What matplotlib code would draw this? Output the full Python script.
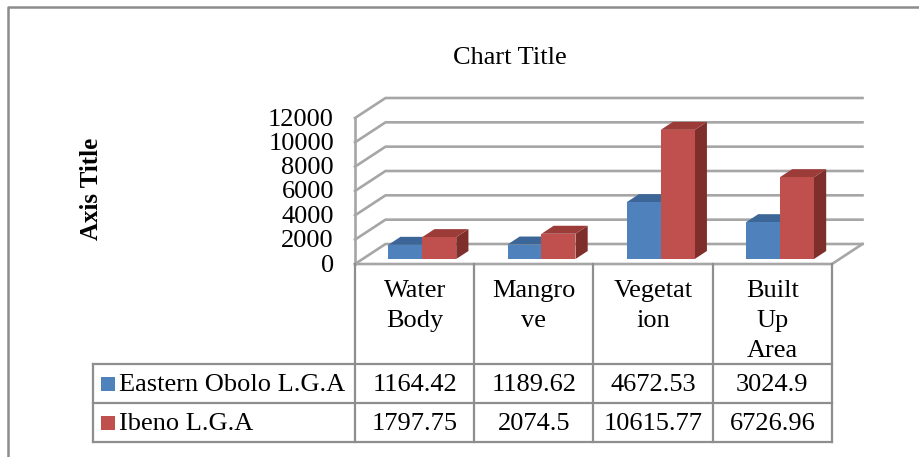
import matplotlib
matplotlib.use("Agg")
import matplotlib.pyplot as plt
from matplotlib.patches import Polygon, Rectangle
from matplotlib.lines import Line2D

# ---------------- data ----------------
categories = ["Water Body", "Mangrove", "Vegetation", "Built Up Area"]
category_labels = ["Water\nBody", "Mangro\nve", "Vegetat\nion", "Built\nUp\nArea"]
series_names = ["Eastern Obolo L.G.A", "Ibeno L.G.A"]
eastern_obolo = [1164.42, 1189.62, 4672.53, 3024.9]
ibeno = [1797.75, 2074.5, 10615.77, 6726.96]
y_ticks = [0, 2000, 4000, 6000, 8000, 10000, 12000]
chart_title = "Chart Title"
axis_title = "Axis Title"

series_values = [eastern_obolo, ibeno]
front_colors = ["#4F81BD", "#C0504D"]
top_colors = ["#3C6698", "#9B3C39"]
side_colors = ["#31557F", "#7E2F2C"]

plt.rcParams["font.family"] = ["Liberation Serif", "DejaVu Serif"]
FS = 19

W, H = 920, 457
fig = plt.figure(figsize=(W / 100, H / 100), dpi=100)
bg = fig.add_axes([0, 0, 1, 1])
bg.set_xlim(0, W)
bg.set_ylim(H, 0)
bg.axis("off")

# chart front plane
ax = fig.add_axes([355 / W, (H - 264) / H, (832 - 355) / W, (264 - 118) / H])
ax.set_xlim(0, len(categories))
ax.set_ylim(0, max(y_ticks))
ax.axis("off")

DX, DY = 30.5, 20.0  # depth offset of back wall in pixels


def proj(x, v, d):
    px, py = ax.transData.transform((x, v))
    return (px + d * DX, H - (py + d * DY))


grid_c = "#a6a6a6"
n = len(categories)
# walls / gridlines
for v in y_ticks:
    a = proj(0, v, 0)
    b = proj(0, v, 1)
    c = proj(n, v, 1)
    bg.add_line(Line2D([a[0], b[0], c[0]], [a[1], b[1], c[1]], color=grid_c, lw=1.9, zorder=1))
# front-left vertical edge
a = proj(0, 0, 0)
b = proj(0, max(y_ticks), 0)
bg.add_line(Line2D([a[0], b[0]], [a[1], b[1]], color=grid_c, lw=1.9, zorder=1))
# floor front and right edges
a = proj(0, 0, 0)
b = proj(n, 0, 0)
c = proj(n, 0, 1)
bg.add_line(Line2D([a[0], b[0], c[0]], [a[1], b[1], c[1]], color=grid_c, lw=1.9, zorder=1))

# bars
bw = 0.285
d0, d1 = 0.25, 0.65
for i in range(n):
    for j, vals in enumerate(series_values):
        v = vals[i]
        x0 = i + 0.5 - bw + j * bw
        x1 = x0 + bw
        front = [proj(x0, 0, d0), proj(x1, 0, d0), proj(x1, v, d0), proj(x0, v, d0)]
        top = [proj(x0, v, d0), proj(x1, v, d0), proj(x1, v, d1), proj(x0, v, d1)]
        side = [proj(x1, 0, d0), proj(x1, 0, d1), proj(x1, v, d1), proj(x1, v, d0)]
        z = 2 + i * 0.1 + j * 0.01
        bg.add_patch(Polygon(side, closed=True, facecolor=side_colors[j], edgecolor="none", zorder=z))
        bg.add_patch(Polygon(top, closed=True, facecolor=top_colors[j], edgecolor="none", zorder=z))
        bg.add_patch(Polygon(front, closed=True, facecolor=front_colors[j], edgecolor="none", zorder=z))

# y tick labels
for v in y_ticks:
    px, py = proj(0, v, 0)
    bg.text(px - 21, py + 1.5, f"{v}", ha="right", va="center", fontsize=FS, color="black")

# titles
bg.text(510, 58, chart_title, ha="center", va="center", fontsize=FS)
bg.text(92, 189, axis_title, ha="center", va="center", rotation=90, fontsize=18, fontweight="bold")

# table
tab_c = "#8e8e8e"
col_x = [proj(i, 0, 0)[0] for i in range(n + 1)]
top_y = proj(0, 0, 0)[1]
row_y = [364, 403, 442]
leg_x = 93
for x in col_x:
    bg.add_line(Line2D([x, x], [top_y, row_y[-1]], color=tab_c, lw=1.6, zorder=3))
bg.add_line(Line2D([leg_x, leg_x], [row_y[0], row_y[-1]], color=tab_c, lw=1.6, zorder=3))
for y in row_y:
    bg.add_line(Line2D([leg_x, col_x[-1]], [y, y], color=tab_c, lw=1.6, zorder=3))

# category header labels
for i, lab in enumerate(category_labels):
    cx = (col_x[i] + col_x[i + 1]) / 2
    for k, line in enumerate(lab.split("\n")):
        bg.text(cx, 291 + 30 * k, line, ha="center", va="center", fontsize=FS)

# data rows
for j, (name, vals) in enumerate(zip(series_names, series_values)):
    cy = (row_y[j] + row_y[j + 1]) / 2
    bg.add_patch(Rectangle((101, cy - 7), 14, 14, facecolor=front_colors[j], edgecolor="none", zorder=4))
    bg.text(119, cy + 1.5, name, ha="left", va="center", fontsize=FS)
    for i, v in enumerate(vals):
        cx = (col_x[i] + col_x[i + 1]) / 2
        bg.text(cx, cy + 1.5, str(v), ha="center", va="center", fontsize=FS)

# outer border
bg.add_line(Line2D([8, 8, W + 5], [H + 5, 7, 7], color="#8c8c8c", lw=1.8, zorder=5, clip_on=False))

fig.savefig("out.png", dpi=100)
